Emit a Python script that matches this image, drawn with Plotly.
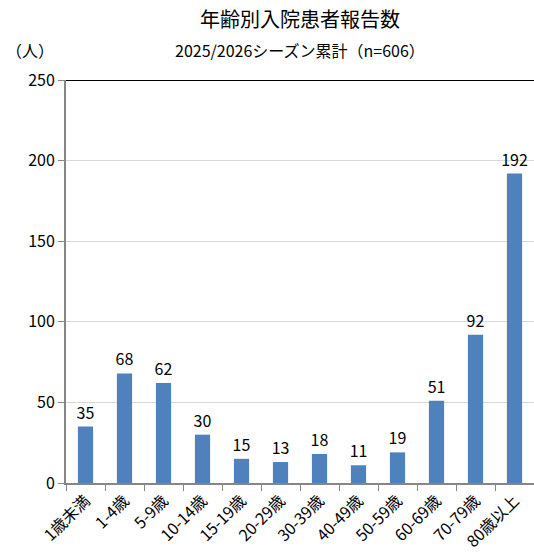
import plotly.graph_objects as go

categories = ["1歳未満", "1-4歳", "5-9歳", "10-14歳", "15-19歳", "20-29歳",
              "30-39歳", "40-49歳", "50-59歳", "60-69歳", "70-79歳", "80歳以上"]
values = [35, 68, 62, 30, 15, 13, 18, 11, 19, 51, 92, 192]
y_ticks = [0, 50, 100, 150, 200, 250]

FONT = "Noto Sans CJK JP"
W, H = 534, 558
ML, MR, MT, MB = 66, 0, 80, 75
plot_h = H - MT - MB
plot_w = W - ML - MR


def ypix(py):
    return (H - MB - py) / plot_h


def xpix(px):
    return (px - ML) / plot_w


fig = go.Figure(go.Bar(
    x=categories, y=values,
    marker=dict(color="#4f81bd", line=dict(width=0)),
    text=[str(v) for v in values], textposition="outside",
    textfont=dict(size=16, color="#000000", family=FONT),
    constraintext="none",
    cliponaxis=False,
))

fig.update_layout(
    width=W, height=H,
    margin=dict(l=ML, r=MR, t=MT, b=MB),
    paper_bgcolor="white", plot_bgcolor="white",
    bargap=0.61,
    showlegend=False,
    font=dict(family=FONT, color="#000000"),
    xaxis=dict(
        type="category", tickangle=-45, automargin=False,
        tickfont=dict(size=16, family=FONT),
        showline=True, linecolor="#868686", linewidth=2,
        ticks="outside", ticklen=6, tickcolor="#868686", tickson="boundaries",
        showgrid=False,
    ),
    yaxis=dict(
        range=[0, 250], tickvals=y_ticks, automargin=False,
        tickfont=dict(size=16, family=FONT),
        showline=True, linecolor="#868686", linewidth=2,
        ticks="outside", ticklen=6, tickcolor="#868686",
        showgrid=True, gridcolor="#d9d9d9", gridwidth=1,
        zeroline=False,
    ),
    annotations=[
        dict(text="年齢別入院患者報告数", xref="paper", yref="paper",
             x=0.5, y=ypix(18), xanchor="center", yanchor="middle",
             showarrow=False, font=dict(size=20, family=FONT)),
        dict(text="2025/2026シーズン累計（n=606）", xref="paper", yref="paper",
             x=xpix(300), y=ypix(50), xanchor="center", yanchor="middle",
             showarrow=False, font=dict(size=16, family=FONT)),
        dict(text="（人）", xref="paper", yref="paper",
             x=xpix(30), y=ypix(50), xanchor="center", yanchor="middle",
             showarrow=False, font=dict(size=16, family=FONT)),
    ],
)

fig.add_shape(type="line", xref="paper", yref="y", x0=0, x1=1, y0=250, y1=250,
              line=dict(color="#000000", width=2), layer="above")

fig.write_html(
    "out.html",
    config={"displayModeBar": False},
    post_script="document.body.style.margin='0';document.body.style.overflow='hidden';",
)
